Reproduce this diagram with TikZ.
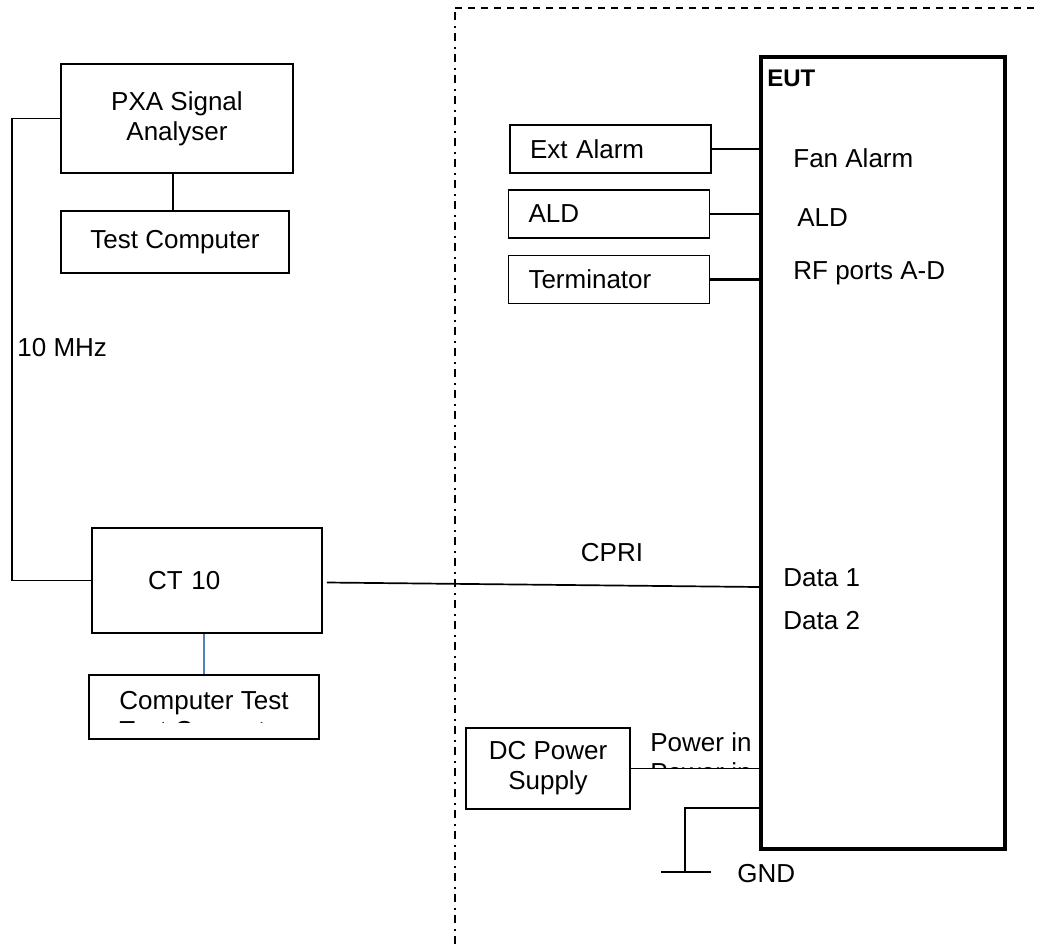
\documentclass[tikz,border=0pt]{standalone}
\usepackage{fontspec}
\setmainfont{Liberation Sans}
\usepackage{tikz}
\usetikzlibrary{positioning, calc}
\definecolor{tinta}{HTML}{000000}
\definecolor{azulcable}{HTML}{4F81BD}
\tikzset{
  every picture/.style={font=\fontsize{13}{15}\selectfont},
  caja/.style={draw=tinta, line width=0.8pt, inner sep=0pt, align=center},
  puerto/.style={caja, align=left, inner xsep=10pt, text width=80.5pt,
                 minimum width=100.5pt, minimum height=24pt},
  eutbox/.style={draw=tinta, line width=2pt, minimum width=122pt, minimum height=396pt},
  cable/.style={line width=0.85pt, tinta},
  cablec/.style={line width=1.1pt, tinta},
  etiq/.style={anchor=west, inner sep=0pt},
  limite/.style={line width=0.75pt, dash pattern=on 4pt off 2.5pt on 1pt off 3pt},
  limiteh/.style={line width=0.75pt, dash pattern=on 3.5pt off 3pt},
}
\begin{document}
\begin{tikzpicture}[x=0.5pt, y=-0.5pt]
  \useasboundingbox (0,0) rectangle (1040,944);
  % instrumentos de medida
  \node[caja, minimum width=116pt, minimum height=54.5pt] (pxa) at (177,118.5) {PXA Signal\\Analyser};
  \node[caja, minimum width=114pt, minimum height=31pt] (tc) at (175,242) {Test Computer};
  \node[caja, align=left, inner xsep=28pt, text width=59pt, minimum width=115pt, minimum height=52.5pt] (ct) at (207,580.5) {CT 10};
  \node[caja, minimum width=115pt, minimum height=32pt] (cmp) at (204,707) {};
  \begin{scope}
    \clip (89,675) rectangle (319,722);
    \node[align=center, inner sep=0pt] (cmpt) at (204,718) {Computer Test\\Test Computer};
  \end{scope}
  \draw[cable] ([xshift=-2pt]pxa.south) -- ([xshift=-1pt]tc.north);
  \draw[cable] (pxa.west) -- ++(-48,0) |- (ct.west);
  \node[etiq] (mhz) at (17,348) {10 MHz};
  \draw[cable, draw=azulcable] (cmp.north |- ct.south) -- (cmp.north);
  % equipo bajo ensayo
  \draw[limite] (455,944) -- (455,8);
  \draw[limiteh] (455,8) -- (1040,8);
  \node[eutbox] (eut) at (883,453) {};
  \node[etiq, font=\fontsize{12}{14}\selectfont\bfseries] (eutl) at (767,78) {EUT};
  \node[puerto] (ext) at (610.5,149) {Ext Alarm};
  \node[puerto] (ald) at (609,214) {ALD};
  \node[puerto] (term) at (609,279.5) {Terminator};
  \draw[cablec] (ext.east) -- (eut.west |- ext.east);
  \draw[cablec] (ald.east) -- ([xshift=1pt]eut.west |- ald.east);
  \draw[cablec] (term.east) -- (eut.west |- term.east);
  \node[etiq] (fan) at (793,158) {Fan Alarm};
  \node[etiq] (aldp) at (797,218) {ALD};
  \node[etiq] (rf) at (793,273) {RF ports A-D};
  % enlace CPRI
  \coordinate (d1) at (759,587);
  \draw[cable] ([xshift=2pt, yshift=-1pt]ct.east) -- (d1);
  \node (cpri) at (612,553) {CPRI};
  \node[etiq] (dat1) at (783,578) {Data 1};
  \node[etiq] (dat2) at (783,621) {Data 2};
  % alimentacion y tierra
  \node[caja, minimum width=82pt, minimum height=40.5pt] (dc) at (548,768.5) {DC Power\\Supply};
  \draw[cable] (dc.east) -- (eut.west |- dc.east);
  \node[etiq] (pin) at (650,742) {Power in};
  \begin{scope}
    \clip (640,750) rectangle (757,767);
    \node[etiq] (pin2) at (650,772) {Power in};
  \end{scope}
  \coordinate (gnd) at (685,872);
  \draw[cable] (eut.west |- 0,808) -| (gnd);
  \draw[cable] ([xshift=-12pt]gnd) -- ([xshift=13pt]gnd);
  \node[etiq] (gndl) at (737,874) {GND};
\end{tikzpicture}
\end{document}
